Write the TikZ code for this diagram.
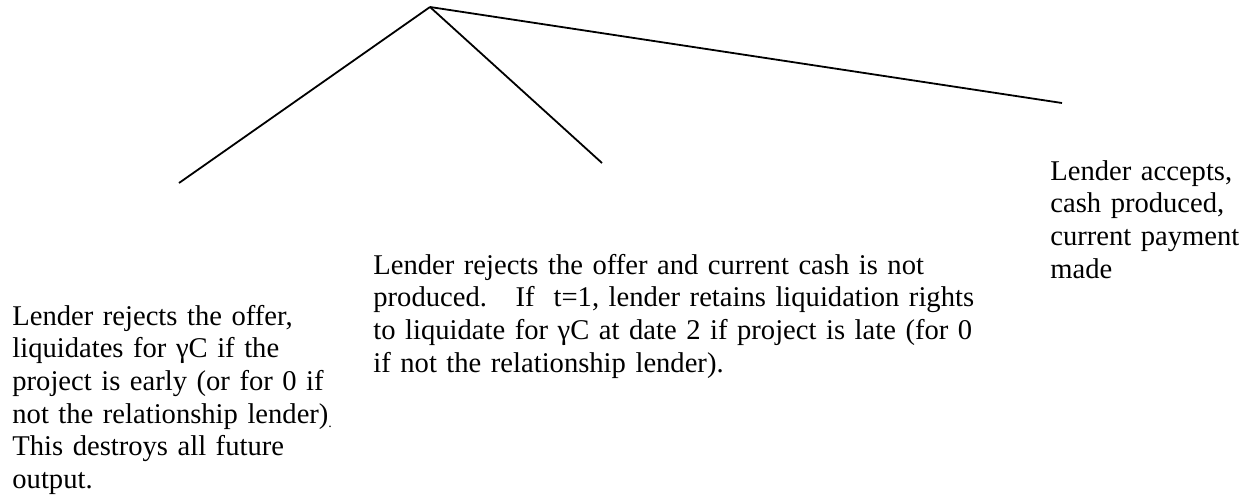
\documentclass[tikz,border=0pt]{standalone}
\usepackage{fontspec}
\setmainfont{Liberation Serif}
\usetikzlibrary{positioning}
\tikzset{
  branch/.style={draw=black,line width=0.9pt},
  outcome/.style={anchor=base west,inner sep=0pt,text width=#1,align=left,
                  font=\fontsize{14.3}{16.35}\selectfont},
  outcome/.default=240pt,
}

\begin{document}
\begin{tikzpicture}[x=0.5pt,y=-0.5pt]
        \useasboundingbox (0,0) rectangle (1260,500);
        \coordinate (root) at (430,7);
        \coordinate (lq) at (179,183);
        \coordinate (rj) at (602,163);
        \coordinate (ac) at (1062,103);
        \draw[branch] (root)--(lq); \draw[branch] (root)--(rj);
        \draw[branch] (root)--(ac);
        \node[outcome=170pt] (tlq) at (12,325) {Lender rejects the offer,\\
          liquidates for γC if the\\ project is early (or for 0 if\\
          not the relationship lender)\rlap{\raisebox{-2pt}{\scriptsize.}}\\
          This destroys all future\\ output.};
        \node[outcome=340pt] (trj) at (373,274) {Lender rejects the offer and current cash is not\\
          produced.\ \ \ If\ \ t=1, lender retains liquidation rights\\
          to liquidate for γC at date 2 if project is late (for 0\\
          if not the relationship lender).};
        \node[outcome=110pt] (tac) at (1050,180) {Lender accepts,\\ cash produced,\\
          current payment\\ made};
      \end{tikzpicture}
\end{document}
